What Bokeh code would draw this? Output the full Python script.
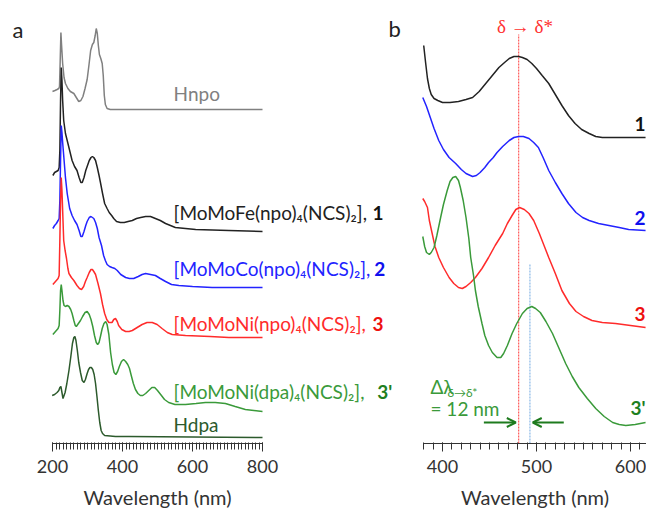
from bokeh.plotting import figure
from bokeh.models import Range1d, LinearAxis, FixedTicker, Arrow, OpenHead, Label
from bokeh.embed import file_html
from bokeh.resources import INLINE

# ---------------- data (stacked absorbance, arbitrary units) ----------------
# Panel a: full UV-vis spectra (offset for clarity)
wl_hnpo = [200, 207, 213, 218, 220, 222, 224, 226, 229, 233, 237, 244, 251, 261, 268, 275, 281, 287, 293, 299,
           304, 309, 314, 318, 322, 325, 328, 331, 334, 338, 342, 345, 348, 351, 356, 365, 800]
ab_hnpo = [352, 353, 354, 355, 357, 383, 411, 398, 380, 366, 360, 355, 352, 350, 346, 342, 343, 347, 355, 364,
           378, 393, 399, 401, 408, 415, 410, 398, 389, 385, 380, 368, 348, 339, 335, 334, 334]

wl_1a = [201, 206, 211, 216, 219, 221, 223, 225, 227, 229, 232, 237, 242, 249, 256, 263, 270, 276, 281, 285,
         290, 295, 299, 305, 310, 314, 318, 323, 328, 333, 337, 343, 349, 356, 362, 369, 375, 383, 394, 405,
         416, 428, 440, 452, 466, 480, 494, 508, 523, 537, 551, 580, 609, 704, 800]
ab_1a = [268, 271, 272, 273, 276, 293, 343, 376, 363, 343, 323, 310, 303, 293, 283, 277, 273, 266, 261, 261,
         266, 273, 277, 283, 286, 287, 286, 283, 276, 268, 261, 250, 240, 235, 231, 228, 225, 222, 221, 221,
         222, 223, 225, 226, 227, 227, 225, 223, 220, 218, 216, 215, 214, 213, 212]

wl_2a = [201, 206, 211, 216, 219, 221, 223, 225, 227, 229, 232, 237, 242, 249, 256, 263, 270, 276, 281, 285,
         290, 295, 299, 305, 310, 314, 318, 323, 328, 333, 340, 346, 351, 356, 363, 370, 378, 385, 395, 409,
         420, 432, 445, 456, 466, 480, 494, 508, 523, 540, 561, 600, 656, 800]
ab_2a = [215, 218, 220, 223, 225, 243, 283, 318, 311, 301, 288, 266, 250, 235, 228, 223, 219, 213, 207, 207,
         212, 218, 222, 226, 227, 226, 225, 221, 215, 206, 198, 188, 183, 179, 177, 176, 175, 173, 169, 166,
         165, 165, 167, 169, 170, 169, 168, 165, 162, 159, 158, 157, 156, 156]

wl_3a = [201, 206, 211, 216, 219, 221, 223, 225, 227, 229, 232, 236, 240, 244, 247, 254, 261, 270, 277, 283,
         289, 294, 299, 305, 310, 314, 318, 323, 330, 337, 343, 349, 355, 361, 366, 370, 375, 380, 385, 389,
         398, 409, 419, 428, 442, 456, 470, 485, 499, 513, 528, 542, 580, 650, 704, 800]
ab_3a = [159, 161, 163, 165, 168, 203, 243, 266, 253, 233, 203, 193, 185, 175, 170, 166, 163, 158, 155, 154,
         157, 162, 166, 171, 174, 174, 172, 169, 160, 150, 139, 130, 124, 121, 121, 121, 124, 125, 122, 118,
         114, 112, 112, 113, 116, 119, 121, 121, 119, 115, 111, 109, 108, 107, 106, 106]

wl_3pa = [201, 206, 211, 216, 219, 221, 223, 225, 227, 230, 233, 237, 242, 247, 252, 256, 261, 265, 268, 272,
          276, 280, 286, 293, 299, 305, 310, 315, 320, 325, 329, 333, 337, 342, 347, 352, 356, 361, 366, 371,
          376, 381, 386, 391, 397, 403, 409, 415, 420, 425, 431, 437, 444, 451, 458, 466, 475, 484, 492, 500,
          509, 520, 532, 550, 580, 610, 637, 665, 694, 722, 751, 800]
ab_3pa = [109, 111, 113, 115, 118, 133, 153, 159, 153, 143, 138, 137, 138, 137, 134, 130, 123, 118, 117, 119,
          121, 123, 127, 131, 132, 129, 124, 117, 108, 101, 99, 101, 107, 115, 120, 122, 119, 109, 91, 79,
          71, 69, 72, 77, 82, 84, 82, 79, 75, 68, 60, 54, 50, 48, 48, 50, 53, 56, 56, 53,
          49, 44, 41, 39, 39, 40, 41, 41, 40, 37, 34, 32]

wl_hdpa = [199, 206, 213, 218, 221, 224, 227, 230, 232, 236, 241, 247, 252, 257, 261, 264, 267, 271, 275, 280,
           285, 290, 294, 299, 303, 307, 311, 315, 319, 323, 327, 331, 335, 339, 343, 349, 380, 418, 800]
ab_hdpa = [48, 49, 51, 53, 56, 57, 51, 45, 47, 51, 60, 73, 86, 100, 106, 107, 103, 93, 81, 71,
           63, 61, 64, 70, 74, 76, 76, 74, 69, 60, 47, 33, 21, 13, 10, 8, 7, 7, 6]

# Panel b: delta -> delta* region
wl_1b = [380, 382, 384, 386, 388, 391, 395, 400, 408, 417, 425, 432, 439, 446, 453, 460, 466, 471, 476, 481,
         485, 490, 495, 500, 506, 513, 520, 527, 534, 541, 548, 556, 563, 570, 584, 600, 616]
ab_1b = [398, 381, 365, 355, 349, 345, 343, 341, 341, 342, 344, 346, 352, 360, 368, 376, 381, 385, 387, 387,
         386, 384, 380, 375, 368, 360, 349, 338, 328, 320, 314, 310, 307, 306, 306, 306, 306]

wl_2b = [379, 383, 387, 391, 396, 401, 407, 414, 420, 425, 432, 436, 440, 445, 449, 454, 458, 464, 471, 476,
         481, 486, 492, 497, 502, 507, 513, 520, 527, 534, 542, 549, 556, 566, 577, 588, 598, 616]
ab_2b = [346, 337, 326, 315, 303, 294, 286, 280, 274, 270, 267, 268, 271, 276, 281, 286, 291, 297, 303, 306,
         307, 307, 305, 301, 296, 286, 273, 261, 250, 240, 231, 226, 223, 220, 218, 216, 214, 213]

wl_3b = [379, 381, 384, 386, 389, 392, 396, 401, 407, 412, 417, 421, 425, 430, 435, 442, 449, 456, 464, 469,
         474, 478, 482, 487, 492, 497, 503, 508, 513, 520, 527, 535, 542, 550, 559, 570, 584, 600, 616]
ab_3b = [245, 242, 236, 223, 210, 197, 186, 176, 166, 160, 156, 155, 157, 161, 166, 175, 186, 198, 210, 220,
         228, 234, 236, 234, 230, 223, 210, 198, 186, 170, 153, 140, 132, 127, 123, 121, 120, 118, 116]

wl_3pb = [379, 381, 383, 386, 388, 391, 394, 398, 401, 405, 408, 411, 414, 417, 419, 422, 425, 428, 430, 433,
          435, 438, 442, 445, 449, 453, 458, 462, 465, 469, 474, 479, 485, 490, 495, 499, 504, 510, 517, 524,
          531, 538, 545, 554, 563, 572, 581, 588, 595, 605, 616]
ab_3pb = [207, 197, 191, 189, 191, 196, 208, 226, 239, 253, 262, 266, 267, 263, 256, 243, 226, 205, 186, 168,
          153, 137, 120, 108, 98, 91, 86, 86, 90, 98, 110, 120, 130, 135, 137, 135, 131, 122, 110, 95,
          80, 67, 56, 45, 35, 27, 21, 19, 18, 19, 21]

dd_peaks = [481, 493]          # delta->delta* maxima: npo series, dpa compound
ticks_a = [200, 400, 600, 800]
ticks_b = [400, 500, 600]

names_a = ["[MoMoFe(npo)\u2084(NCS)\u2082],", "[MoMoCo(npo)\u2084(NCS)\u2082],",
           "[MoMoNi(npo)\u2084(NCS)\u2082],", "[MoMoNi(dpa)\u2084(NCS)\u2082],"]
ids = ["1", "2", "3", "3'"]

# ---------------- styling ----------------
FONT = "Lato"
C_HNPO = "#808080"
C1, C2, C3, C3P, C_HDPA = "#222222", "#2323ff", "#ff2b2b", "#3a9a3a", "#2c5a2c"
ID_COLORS = ["#111111", "#1010ee", "#ee1010", "#1f7f1f"]

p = figure(width=646, height=511, output_backend="svg", toolbar_location=None,
           x_range=Range1d(-70.2, 617.0), y_range=Range1d(-68, 443),
           x_axis_location=None, y_axis_location=None, min_border=0)
p.extra_x_ranges = {"a": Range1d(51.43, 1897.1)}
p.outline_line_color = None
p.grid.visible = False
p.background_fill_color = "white"
p.border_fill_color = "white"


def style_axis(ax):
    ax.axis_line_color = "#333333"
    ax.major_tick_line_color = "#333333"
    ax.minor_tick_line_color = "#333333"
    ax.major_tick_line_width = 1
    ax.minor_tick_line_width = 1
    ax.major_tick_in = 1
    ax.major_tick_out = 8
    ax.minor_tick_in = 1
    ax.minor_tick_out = 6
    ax.major_label_text_font = FONT
    ax.major_label_text_font_size = "18px"
    ax.major_label_text_color = "#333333"
    ax.major_label_standoff = 8
    ax.axis_label_text_font = FONT
    ax.axis_label_text_font_size = "20px"
    ax.axis_label_text_font_style = "normal"
    ax.axis_label_text_color = "#333333"
    ax.axis_label_standoff = 9


ax_a = LinearAxis(x_range_name="a", fixed_location=0, bounds=(200, 800),
                  ticker=FixedTicker(ticks=ticks_a, minor_ticks=list(range(200, 801, 10))),
                  axis_label="Wavelength (nm)")
style_axis(ax_a)
p.add_layout(ax_a, "below")

ax_b = LinearAxis(fixed_location=0, bounds=(380, 617),
                  ticker=FixedTicker(ticks=ticks_b, minor_ticks=list(range(380, 621, 10))),
                  axis_label="Wavelength (nm)")
style_axis(ax_b)
p.add_layout(ax_b, "below")

LW = 1.5
# panel a curves
p.line(wl_hnpo, ab_hnpo, x_range_name="a", line_color=C_HNPO, line_width=LW)
p.line(wl_1a, ab_1a, x_range_name="a", line_color=C1, line_width=LW)
p.line(wl_2a, ab_2a, x_range_name="a", line_color=C2, line_width=LW)
p.line(wl_3a, ab_3a, x_range_name="a", line_color=C3, line_width=LW)
p.line(wl_3pa, ab_3pa, x_range_name="a", line_color=C3P, line_width=LW)
p.line(wl_hdpa, ab_hdpa, x_range_name="a", line_color=C_HDPA, line_width=LW)

# panel b guide lines at the delta->delta* maxima
p.segment(x0=[dd_peaks[0]], y0=[0], x1=[dd_peaks[0]], y1=[max(ab_1b)+11],
          line_color="#ff5a5a", line_width=1.2, line_dash="2 1")
p.segment(x0=[dd_peaks[1]], y0=[0], x1=[dd_peaks[1]], y1=[max(ab_3pb[20:])+26],
          line_color="#8ab8e6", line_width=1.2, line_dash="2 1")

# panel b curves
p.line(wl_1b, ab_1b, line_color=C1, line_width=LW)
p.line(wl_2b, ab_2b, line_color=C2, line_width=LW)
p.line(wl_3b, ab_3b, line_color=C3, line_width=LW)
p.line(wl_3pb, ab_3pb, line_color=C3P, line_width=LW)


# ---------------- labels ----------------
def lab(x, y, text, color, size="19px", align="left", style="normal", rng="default",
        font=FONT, baseline="middle"):
    p.add_layout(Label(x=x, y=y, text=text, x_range_name=rng, text_color=color,
                       text_font=font, text_font_size=size, text_align=align,
                       text_font_style=style, text_baseline=baseline))


lab(101, 414, "a", "#222222", size="22px", align="center", rng="a")
lab(349, 415, "b", "#222222", size="22px", align="center")

lab(546, 350, "Hnpo", C_HNPO, rng="a")
label_y = [231, 175, 120, 52]
id_x = [1146, 1151, 1146, 1171]
name_colors = [C1, C2, C3, C3P]
for nm, i, y, ix, c, ic in zip(names_a, ids, label_y, id_x, name_colors, ID_COLORS):
    lab(546, y, nm, c, rng="a")
    lab(ix, y, i, ic, rng="a", align="right", style="bold")
lab(546, 19, "Hdpa", C_HDPA, rng="a")

# panel b annotations
lab(487.8, 417, "\u03b4 \u2192 \u03b4*", "#ff3030", size="19px", align="center",
    font="Liberation Serif")
for y, i, ic in zip([320, 226, 130, 36], ids, ID_COLORS):
    lab(616, y, i, ic, style="bold", size="19px", align="right")

lab(387.2, 57, "\u0394\u03bb", C3P, size="19px")
lab(405.3, 51, "\u03b4\u2192\u03b4*", C3P, size="12px")
lab(387.2, 35.5, "= 12 nm", C3P, size="19px")

AC = "#1e7b1e"
p.add_layout(Arrow(end=OpenHead(size=9, line_color=AC, line_width=2),
                   x_start=dd_peaks[0] - 37, y_start=21, x_end=dd_peaks[0] - 3, y_end=21,
                   line_color=AC, line_width=2))
p.add_layout(Arrow(end=OpenHead(size=9, line_color=AC, line_width=2),
                   x_start=dd_peaks[1] + 36, y_start=21, x_end=dd_peaks[1] + 3, y_end=21,
                   line_color=AC, line_width=2))

open("out.html", "w").write(file_html(p, INLINE))
